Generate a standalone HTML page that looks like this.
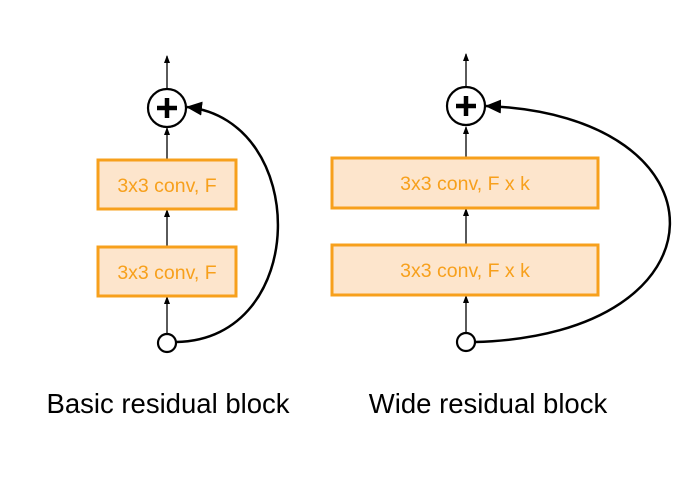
<!DOCTYPE html>
<html><head><style>body{margin:0;background:#fff}svg{display:block}</style></head><body>
<svg width="698" height="502" viewBox="0 0 698 502" xmlns="http://www.w3.org/2000/svg" font-family="Liberation Sans, sans-serif">
<defs>
<marker id="a" markerWidth="8" markerHeight="8" refX="7" refY="4" orient="auto" markerUnits="userSpaceOnUse"><path d="M0,1 L8,4 L0,7z" fill="#000"/></marker>
<marker id="b" markerWidth="16" markerHeight="14" refX="15" refY="7" orient="auto" markerUnits="userSpaceOnUse"><path d="M0,0 L16,7 L0,14z" fill="#000"/></marker>
</defs>
<g stroke="#000" stroke-width="1.3" fill="none">
<line x1="167" y1="88" x2="167" y2="56" marker-end="url(#a)"/>
<line x1="167" y1="159" x2="167" y2="128" marker-end="url(#a)"/>
<line x1="167" y1="246" x2="167" y2="210" marker-end="url(#a)"/>
<line x1="167" y1="333" x2="167" y2="297" marker-end="url(#a)"/>
<line x1="466" y1="87" x2="466" y2="54" marker-end="url(#a)"/>
<line x1="466" y1="158" x2="466" y2="127" marker-end="url(#a)"/>
<line x1="466" y1="245" x2="466" y2="209" marker-end="url(#a)"/>
<line x1="466" y1="333" x2="466" y2="296" marker-end="url(#a)"/>
</g>
<g fill="#fde5cc" stroke="#f7a01c" stroke-width="3">
<rect x="98" y="160" width="138" height="49"/>
<rect x="98" y="247" width="138" height="49"/>
<rect x="332" y="158" width="266" height="50"/>
<rect x="332" y="245" width="266" height="50"/>
</g>
<g fill="#f7a01c" font-size="19.5" text-anchor="middle">
<text x="167" y="192">3x3 conv, F</text>
<text x="167" y="279">3x3 conv, F</text>
<text x="465" y="190">3x3 conv, F x k</text>
<text x="465" y="277">3x3 conv, F x k</text>
</g>
<g stroke="#000" stroke-width="2.5" fill="none">
<path d="M176,342 C310,340 310,120 187,107" marker-end="url(#b)"/>
<path d="M475,342 C733,335 733,115 486,106" marker-end="url(#b)"/>
</g>
<g stroke="#000" stroke-width="2.2" fill="#fff">
<circle cx="167" cy="108" r="19"/>
<circle cx="466" cy="106" r="19"/>
<circle cx="167" cy="343" r="9"/>
<circle cx="466" cy="342" r="9"/>
</g>
<g stroke="#000" stroke-width="4.5">
<line x1="157" y1="108" x2="177" y2="108"/><line x1="167" y1="98" x2="167" y2="118"/>
<line x1="456" y1="106" x2="476" y2="106"/><line x1="466" y1="96" x2="466" y2="116"/>
</g>
<g fill="#000" font-size="27.5" text-anchor="middle">
<text x="168" y="413">Basic residual block</text>
<text x="488" y="413">Wide residual block</text>
</g>
</svg>
</body></html>
